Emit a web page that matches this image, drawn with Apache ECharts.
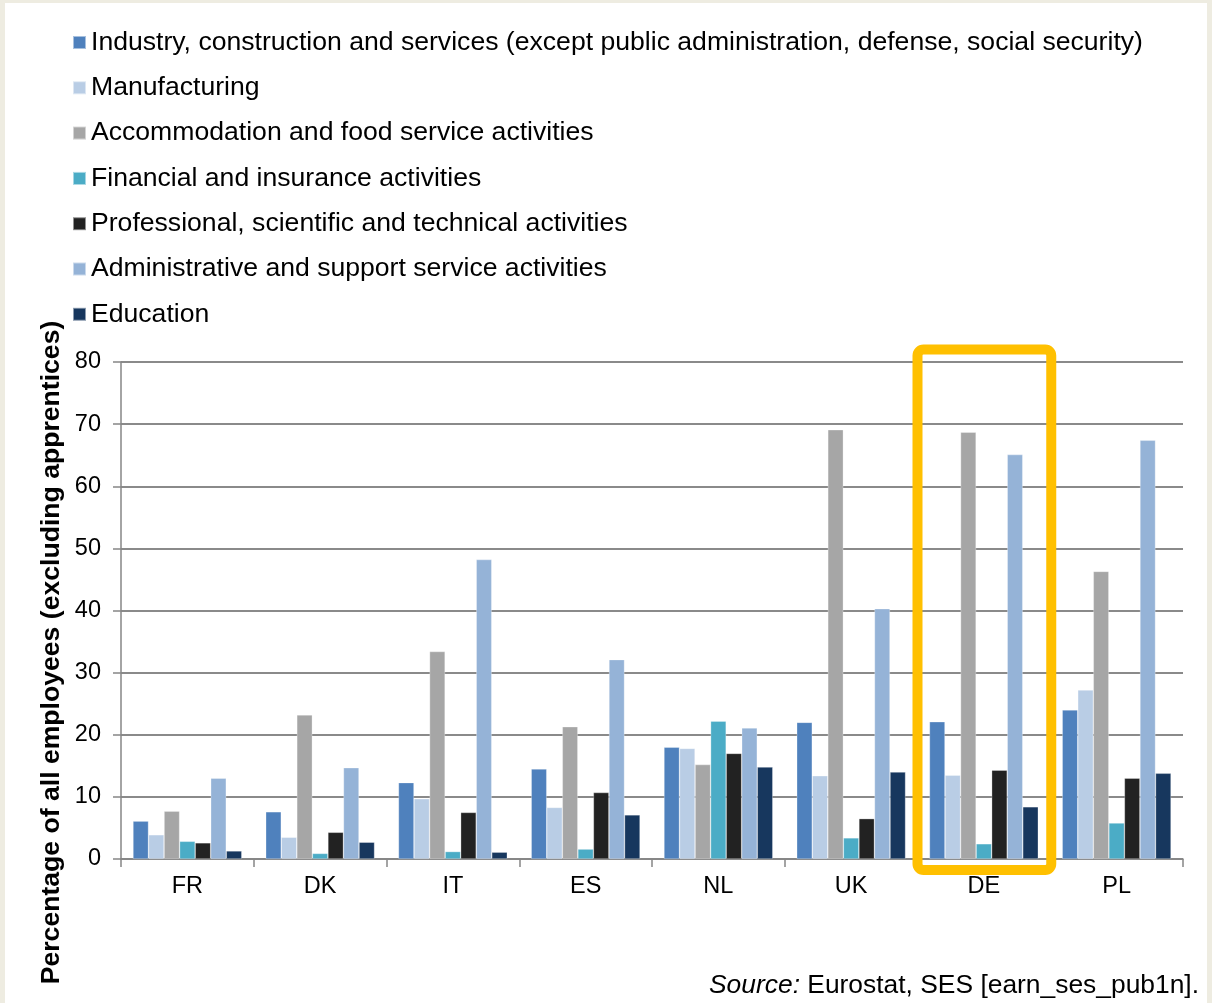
<!DOCTYPE html>
<html>
<head>
<meta charset="utf-8">
<script src="https://cdn.jsdelivr.net/npm/echarts@6/dist/echarts.min.js"></script>
<style>
  html, body { margin: 0; padding: 0; background: #EEECE1; width: 1212px; height: 1003px; overflow: hidden; }
  #c { position: absolute; left: 5px; top: 3px; width: 1202px; height: 1000px; background: #fff; }
</style>
</head>
<body>
<div id="c"></div>
<script>
const categories = ['FR', 'DK', 'IT', 'ES', 'NL', 'UK', 'DE', 'PL'];
const seriesNames = [
  'Industry, construction and services (except public administration, defense, social security)',
  'Manufacturing',
  'Accommodation and food service activities',
  'Financial and insurance activities',
  'Professional, scientific and technical activities',
  'Administrative and support service activities',
  'Education'
];
const industry       = [6.1, 7.6, 12.3, 14.5, 18.0, 22.0, 22.1, 24.0];
const manufacturing  = [3.9, 3.5, 9.7, 8.3, 17.8, 13.4, 13.5, 27.2];
const accommodation  = [7.7, 23.2, 33.4, 21.3, 15.2, 69.1, 68.7, 46.3];
const financial      = [2.85, 0.9, 1.2, 1.6, 22.2, 3.4, 2.45, 5.8];
const professional   = [2.6, 4.3, 7.5, 10.7, 17.0, 6.5, 14.3, 13.0];
const administrative = [13.0, 14.7, 48.2, 32.1, 21.1, 40.3, 65.1, 67.4];
const education      = [1.3, 2.7, 1.1, 7.1, 14.8, 14.0, 8.4, 13.8];
const yTicks = [0, 10, 20, 30, 40, 50, 60, 70, 80];
const highlighted = 'DE';

const values = [industry, manufacturing, accommodation, financial, professional, administrative, education];
const colors = ['#4F81BD', '#B9CDE5', '#A6A6A6', '#4BACC6', '#222222', '#95B3D7', '#17375E'];

const chart = echarts.init(document.getElementById('c'));
const font = "'Liberation Sans', Arial, sans-serif";

const option = {
  animation: false,
  backgroundColor: '#ffffff',
  textStyle: { fontFamily: font },
  color: colors,
  legend: {
    orient: 'vertical',
    left: 67,
    top: 26,
    padding: 0,
    itemWidth: 13,
    itemHeight: 13,
    itemGap: 18.3,
    itemTextGap: 8,
    icon: 'rect',
    selectedMode: false,
    textStyle: { fontSize: 26.6, color: '#000', fontFamily: font, lineHeight: 24 },
    data: seriesNames
  },
  grid: { left: 116, right: 24, top: 359, bottom: 144, containLabel: false },
  xAxis: {
    type: 'category',
    data: categories,
    axisLine: { lineStyle: { color: '#868686', width: 1.5 } },
    axisTick: { show: true, length: 8, lineStyle: { color: '#868686', width: 1.5 } },
    axisLabel: { fontSize: 23.5, color: '#000', margin: 16, fontFamily: font }
  },
  yAxis: {
    type: 'value',
    min: yTicks[0],
    max: yTicks[yTicks.length - 1],
    interval: 10,
    axisLine: { show: true, lineStyle: { color: '#868686', width: 1.5 } },
    axisTick: { show: true, length: 8, lineStyle: { color: '#868686', width: 1.5 } },
    axisLabel: { fontSize: 23.5, color: '#000', margin: 20, fontFamily: font },
    splitLine: { show: true, lineStyle: { color: '#8a8a8a', width: 1.8 } }
  },
  series: seriesNames.map((n, i) => ({
    name: n,
    type: 'bar',
    data: values[i],
    barGap: '0%',
    barCategoryGap: '18%',
    itemStyle: { color: colors[i], borderColor: 'rgba(255,255,255,0.5)', borderWidth: 0.6 }
  }))
};
chart.setOption(option);

// Highlight box around the chosen category and annotations
const idx = categories.indexOf(highlighted);
const cx = chart.convertToPixel({ xAxisIndex: 0 }, idx);
const cx2 = chart.convertToPixel({ xAxisIndex: 0 }, idx + 1);
const band = cx2 - cx;
const yTop = chart.convertToPixel({ yAxisIndex: 0 }, yTicks[yTicks.length - 1]);
const yBot = chart.convertToPixel({ yAxisIndex: 0 }, yTicks[0]);
const yMid = (yTop + yBot) / 2;

chart.setOption({
  graphic: [
    {
      type: 'rect',
      z: 100,
      shape: { x: cx - band / 2, y: yTop - 12.5, width: band + 1, height: (yBot - yTop) + 23.5, r: 6 },
      style: { fill: 'none', stroke: '#FFC000', lineWidth: 10 }
    },
    {
      type: 'text',
      z: 100,
      x: 47,
      y: yMid + 42,
      rotation: Math.PI / 2,
      style: {
        text: 'Percentage of all employees (excluding apprentices)',
        font: "bold 26.6px 'Liberation Sans', Arial, sans-serif",
        fill: '#000',
        textAlign: 'center',
        textVerticalAlign: 'middle'
      }
    },
    {
      type: 'text',
      z: 100,
      x: 1194,
      y: 983,
      style: {
        rich: {
          i: { fontStyle: 'italic', fontSize: 26.4, fontFamily: font, fill: '#000' },
          n: { fontSize: 26.4, fontFamily: font, fill: '#000' }
        },
        text: '{i|Source:}{n| Eurostat, SES [earn_ses_pub1n].}',
        textAlign: 'right',
        textVerticalAlign: 'middle'
      }
    }
  ]
});
</script>
</body>
</html>
